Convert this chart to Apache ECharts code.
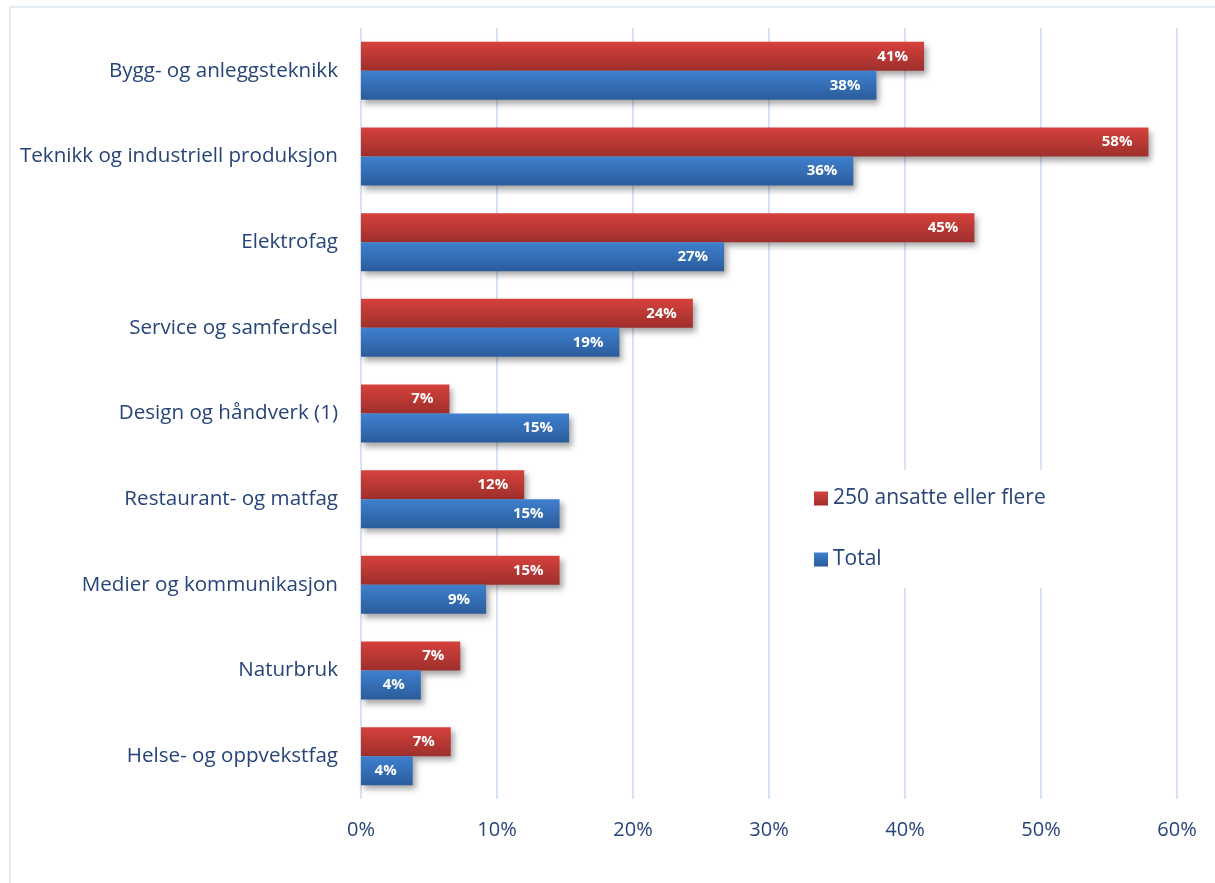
<!DOCTYPE html>
<html>
<head>
<meta charset="utf-8">
<script src="https://cdn.jsdelivr.net/npm/echarts@6/dist/echarts.min.js"></script>
<style>
  html, body { margin: 0; padding: 0; background: #fff; }
  #chart { width: 1215px; height: 883px; }
</style>
</head>
<body>
<div id="chart"></div>
<script>
var categories = [
  'Bygg- og anleggsteknikk',
  'Teknikk og industriell produksjon',
  'Elektrofag',
  'Service og samferdsel',
  'Design og håndverk (1)',
  'Restaurant- og matfag',
  'Medier og kommunikasjon',
  'Naturbruk',
  'Helse- og oppvekstfag'
];
var large = [41.4, 57.9, 45.1, 24.4, 6.5, 12.0, 14.6, 7.3, 6.6];
var total = [37.9, 36.2, 26.7, 19.0, 15.3, 14.6, 9.2, 4.4, 3.8];
var xTicks = [0, 10, 20, 30, 40, 50, 60];

var textColor = '#264478';
var fontName = 'Open Sans';

var grad = function (c1, c2) {
  return new echarts.graphic.LinearGradient(0, 0, 0, 1, [
    { offset: 0, color: c1 },
    { offset: 1, color: c2 }
  ]);
};

var barStyle = function (c1, c2) {
  return {
    color: grad(c1, c2),
    shadowColor: 'rgba(0,0,0,0.35)',
    shadowBlur: 6,
    shadowOffsetX: 3,
    shadowOffsetY: 4
  };
};

var label = {
  show: true,
  position: 'insideRight',
  distance: 16,
  color: '#fff',
  fontWeight: 'bold',
  fontSize: 15,
  fontFamily: fontName,
  formatter: function (p) { return Math.round(p.value) + '%'; }
};

var myChart = echarts.init(document.getElementById('chart'));

var option = {
  animation: false,
  backgroundColor: '#fff',
  graphic: [{
    type: 'rect',
    shape: { x: 10, y: 7, width: 1230, height: 900 },
    style: { fill: 'none', stroke: '#dce6f2', lineWidth: 1.5 },
    silent: true
  }],
  grid: { left: 361, right: 38, top: 28, bottom: 84 },
  legend: {
    orient: 'vertical',
    left: 806,
    top: 470,
    itemGap: 40,
    itemWidth: 14,
    itemHeight: 14,
    padding: [18, 16, 18, 8],
    backgroundColor: '#fff',
    icon: 'rect',
    textStyle: { color: textColor, fontSize: 21, fontFamily: fontName },
    data: ['250 ansatte eller flere', 'Total']
  },
  xAxis: {
    type: 'value',
    min: xTicks[0],
    max: xTicks[xTicks.length - 1],
    interval: 10,
    axisLine: { show: false },
    axisTick: { show: false },
    axisLabel: {
      margin: 21,
      color: textColor,
      fontSize: 20,
      fontFamily: fontName,
      formatter: '{value}%'
    },
    splitLine: { lineStyle: { color: '#d6e3f3', width: 2 } }
  },
  yAxis: {
    type: 'category',
    inverse: true,
    data: categories,
    axisLine: { show: false },
    axisTick: { show: false },
    axisLabel: {
      margin: 23,
      color: textColor,
      fontSize: 20.6,
      fontFamily: fontName
    }
  },
  series: [
    {
      name: '250 ansatte eller flere',
      type: 'bar',
      data: large,
      barWidth: 29,
      barGap: '0%',
      itemStyle: barStyle('#d6413c', '#9e2f2b'),
      label: label
    },
    {
      name: 'Total',
      type: 'bar',
      data: total,
      barWidth: 29,
      barGap: '0%',
      itemStyle: barStyle('#3f80cf', '#2b5c9b'),
      label: label
    }
  ]
};

myChart.setOption(option);
window.addEventListener('resize', function () {
  myChart.resize();
});
</script>
</body>
</html>
